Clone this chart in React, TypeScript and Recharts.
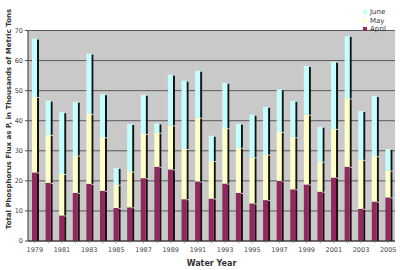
import React from 'react';
import { BarChart, Bar, XAxis, YAxis, CartesianGrid, Legend } from 'recharts';

const YEARS = [
  1979, 1980, 1981, 1982, 1983, 1984, 1985, 1986, 1987, 1988, 1989, 1990, 1991, 1992,
  1993, 1994, 1995, 1996, 1997, 1998, 1999, 2000, 2001, 2002, 2003, 2004, 2005,
];
const APRIL = [
  22.8, 19.3, 8.5, 16.0, 19.0, 16.7, 11.0, 11.2, 20.9, 24.7, 23.8, 13.9, 19.8, 14.1,
  19.1, 16.0, 12.5, 13.6, 20.0, 17.2, 18.8, 16.4, 21.1, 24.7, 10.7, 13.1, 14.5,
];
const MAY = [
  25.1, 16.0, 13.8, 12.4, 23.3, 17.8, 7.7, 11.9, 14.7, 11.3, 14.6, 16.7, 21.2, 12.5,
  18.4, 15.0, 15.3, 15.1, 16.3, 17.3, 23.2, 10.0, 16.2, 22.7, 16.3, 15.1, 8.9,
];
const JUNE = [
  19.4, 11.4, 20.5, 17.9, 20.0, 14.3, 5.6, 15.8, 13.0, 3.1, 16.9, 22.7, 15.6, 8.4,
  15.1, 8.0, 14.2, 15.9, 14.1, 12.1, 16.2, 11.6, 22.3, 20.8, 16.2, 20.0, 7.2,
];
const Y_TICKS = [0, 10, 20, 30, 40, 50, 60, 70];

const COLORS = { april: '#93285e', may: '#ffffc8', june: '#c4ffff' };
const FONT = 'DejaVu Sans, Verdana, sans-serif';

const data = YEARS.map((year, i) => ({
  year,
  april: APRIL[i],
  may: MAY[i],
  june: JUNE[i],
}));

// bar segment with the dark drop shadow on its right side
const ShadowBar = (props: any) => {
  const { x, y, width, height, fill } = props;
  if (!height || height <= 0) return null;
  return (
    <g>
      <rect x={x + width} y={y + 1} width={2} height={Math.max(height - 1, 0)} fill="#111" />
      <rect x={x} y={y} width={width} height={height} fill={fill} />
    </g>
  );
};

const LegendBox = () => {
  const items = [
    { name: 'June', color: COLORS.june },
    { name: 'May', color: COLORS.may },
    { name: 'April', color: COLORS.april },
  ];
  return (
    <div style={{ fontFamily: FONT, fontSize: 7, color: '#333', lineHeight: '8.5px' }}>
      {items.map((it) => (
        <div key={it.name} style={{ display: 'flex', alignItems: 'center', whiteSpace: 'nowrap' }}>
          <span
            style={{
              width: 4,
              height: 4,
              minWidth: 4,
              flexShrink: 0,
              background: it.color,
              marginRight: 3,
              display: 'block',
            }}
          />
          <span>{it.name}</span>
        </div>
      ))}
    </div>
  );
};

const YTitle = () => {
  const cy = 119;
  return (
    <text
      x={9}
      y={cy}
      transform={`rotate(-90, 9, ${cy})`}
      textAnchor="middle"
      dominantBaseline="central"
      fontFamily={FONT}
      fontSize={7}
      fontWeight="bold"
      fill="#333"
    >
      Total Phosphorus Flux as P, in Thousands of Metric Tons
    </text>
  );
};

export default function App() {
  return (
    <div style={{ position: 'absolute', left: 0, top: 0, width: 400, height: 270, background: '#fff' }}>
      <BarChart
        width={400}
        height={270}
        data={data}
        margin={{ top: 5, right: 5, left: 0, bottom: 0 }}
        barSize={5}
      >
        <CartesianGrid vertical={false} stroke="#5a5a5a" fill="#c9c9c9" fillOpacity={1} />
        <XAxis
          dataKey="year"
          interval={0}
          height={29}
          tickFormatter={(v: number) => (v % 2 === 1 ? String(v) : '')}
          tick={{ fontFamily: FONT, fontSize: 6.5, fill: '#444', dy: 2 }}
          tickSize={2}
          tickLine={{ stroke: '#888' }}
          axisLine={{ stroke: '#333' }}
          label={{
            value: 'Water Year',
            position: 'insideBottom',
            offset: 4,
            style: { fontFamily: FONT, fontSize: 8, fontWeight: 'bold', fill: '#333' },
          }}
        />
        <YAxis
          width={28}
          domain={[0, 70]}
          ticks={Y_TICKS}
          interval={0}
          tick={{ fontFamily: FONT, fontSize: 6.5, fill: '#444' }}
          tickSize={3}
          tickLine={{ stroke: '#555' }}
          axisLine={{ stroke: '#333' }}
          label={<YTitle />}
        />
        <Legend
          verticalAlign="top"
          align="right"
          content={<LegendBox />}
          wrapperStyle={{ position: 'absolute', top: 8, left: 363, width: 36 }}
        />
        <Bar dataKey="april" name="April" stackId="a" fill={COLORS.april} shape={<ShadowBar />} isAnimationActive={false} />
        <Bar dataKey="may" name="May" stackId="a" fill={COLORS.may} shape={<ShadowBar />} isAnimationActive={false} />
        <Bar dataKey="june" name="June" stackId="a" fill={COLORS.june} shape={<ShadowBar />} isAnimationActive={false} />
      </BarChart>
    </div>
  );
}
